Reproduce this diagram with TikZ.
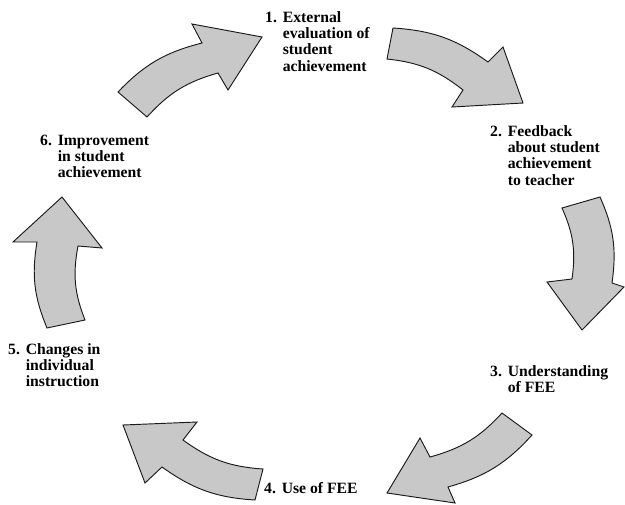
\documentclass[tikz,border=0pt]{standalone}
\usepackage{fontspec}
\setmainfont{Liberation Serif}
\usepackage{xcolor}
\usepackage{tikz}
\definecolor{arrowfill}{HTML}{C8C8C8}
\definecolor{edge}{HTML}{1A1A1A}
\newcommand\stagetext[2]{\makebox[15pt][l]{#1}\begin{tabular}[t]{@{}l@{}}#2\end{tabular}}
\tikzset{
  blockarrow/.style={fill=arrowfill, draw=edge, line width=0.8pt, line join=miter},
  lab/.style={font=\bfseries\fontsize{13.4}{14}\selectfont, anchor=base west, inner sep=0pt, text=black},
}

\begin{document}
\begin{tikzpicture}[x=0.03cm, y=0.03cm]
  \useasboundingbox (0,0) rectangle (625,-504);
  % labels of the six stages
  \node[lab] (s1) at (265,-22) {\stagetext{1.}{External\\evaluation of\\student\\achievement}};
  \node[lab] (s2) at (490,-136) {\stagetext{2.}{Feedback\\about student\\achievement\\to teacher}};
  \node[lab] (s3) at (490,-376) {\stagetext{3.}{Understanding\\of FEE}};
  \node[lab] (s4) at (264,-493) {\stagetext{4.}{Use of FEE}};
  \node[lab] (s5) at (8,-354) {\stagetext{5.}{Changes in\\individual\\instruction}};
  \node[lab] (s6) at (40,-145) {\stagetext{6.}{Improvement\\in student\\achievement}};
  % curved block arrows, clockwise
  \draw[blockarrow] (118,-92) to[bend left=16] (202,-43) -- (192,-24) -- (262,-37)
    -- (228,-90) -- (218,-73) to[bend right=16] (147,-117) -- cycle;
  \draw[blockarrow] (393,-28) to[bend left=16] (488,-62) -- (503,-47) -- (523,-103)
    -- (452,-107) -- (463,-90) to[bend right=16] (387,-59) -- cycle;
  \draw[blockarrow] (600,-197) to[bend left=16] (612,-283) -- (624,-287) -- (582,-330)
    -- (547,-282) -- (572,-279) to[bend right=16] (562,-208) -- cycle;
  \draw[blockarrow] (532,-435) to[bend left=16] (448,-487) -- (455,-503) -- (387,-493)
    -- (420,-438) -- (430,-457) to[bend right=16] (502,-413) -- cycle;
  \draw[blockarrow] (255,-500) to[bend left=16] (162,-467) -- (145,-483) -- (123,-425)
    -- (197,-422) -- (183,-440) to[bend right=16] (263,-469) -- cycle;
  \draw[blockarrow] (47,-328) to[bend left=16] (37,-242) -- (13,-242) -- (62,-197)
    -- (102,-248) -- (78,-246) to[bend right=16] (85,-320) -- cycle;
\end{tikzpicture}
\end{document}
